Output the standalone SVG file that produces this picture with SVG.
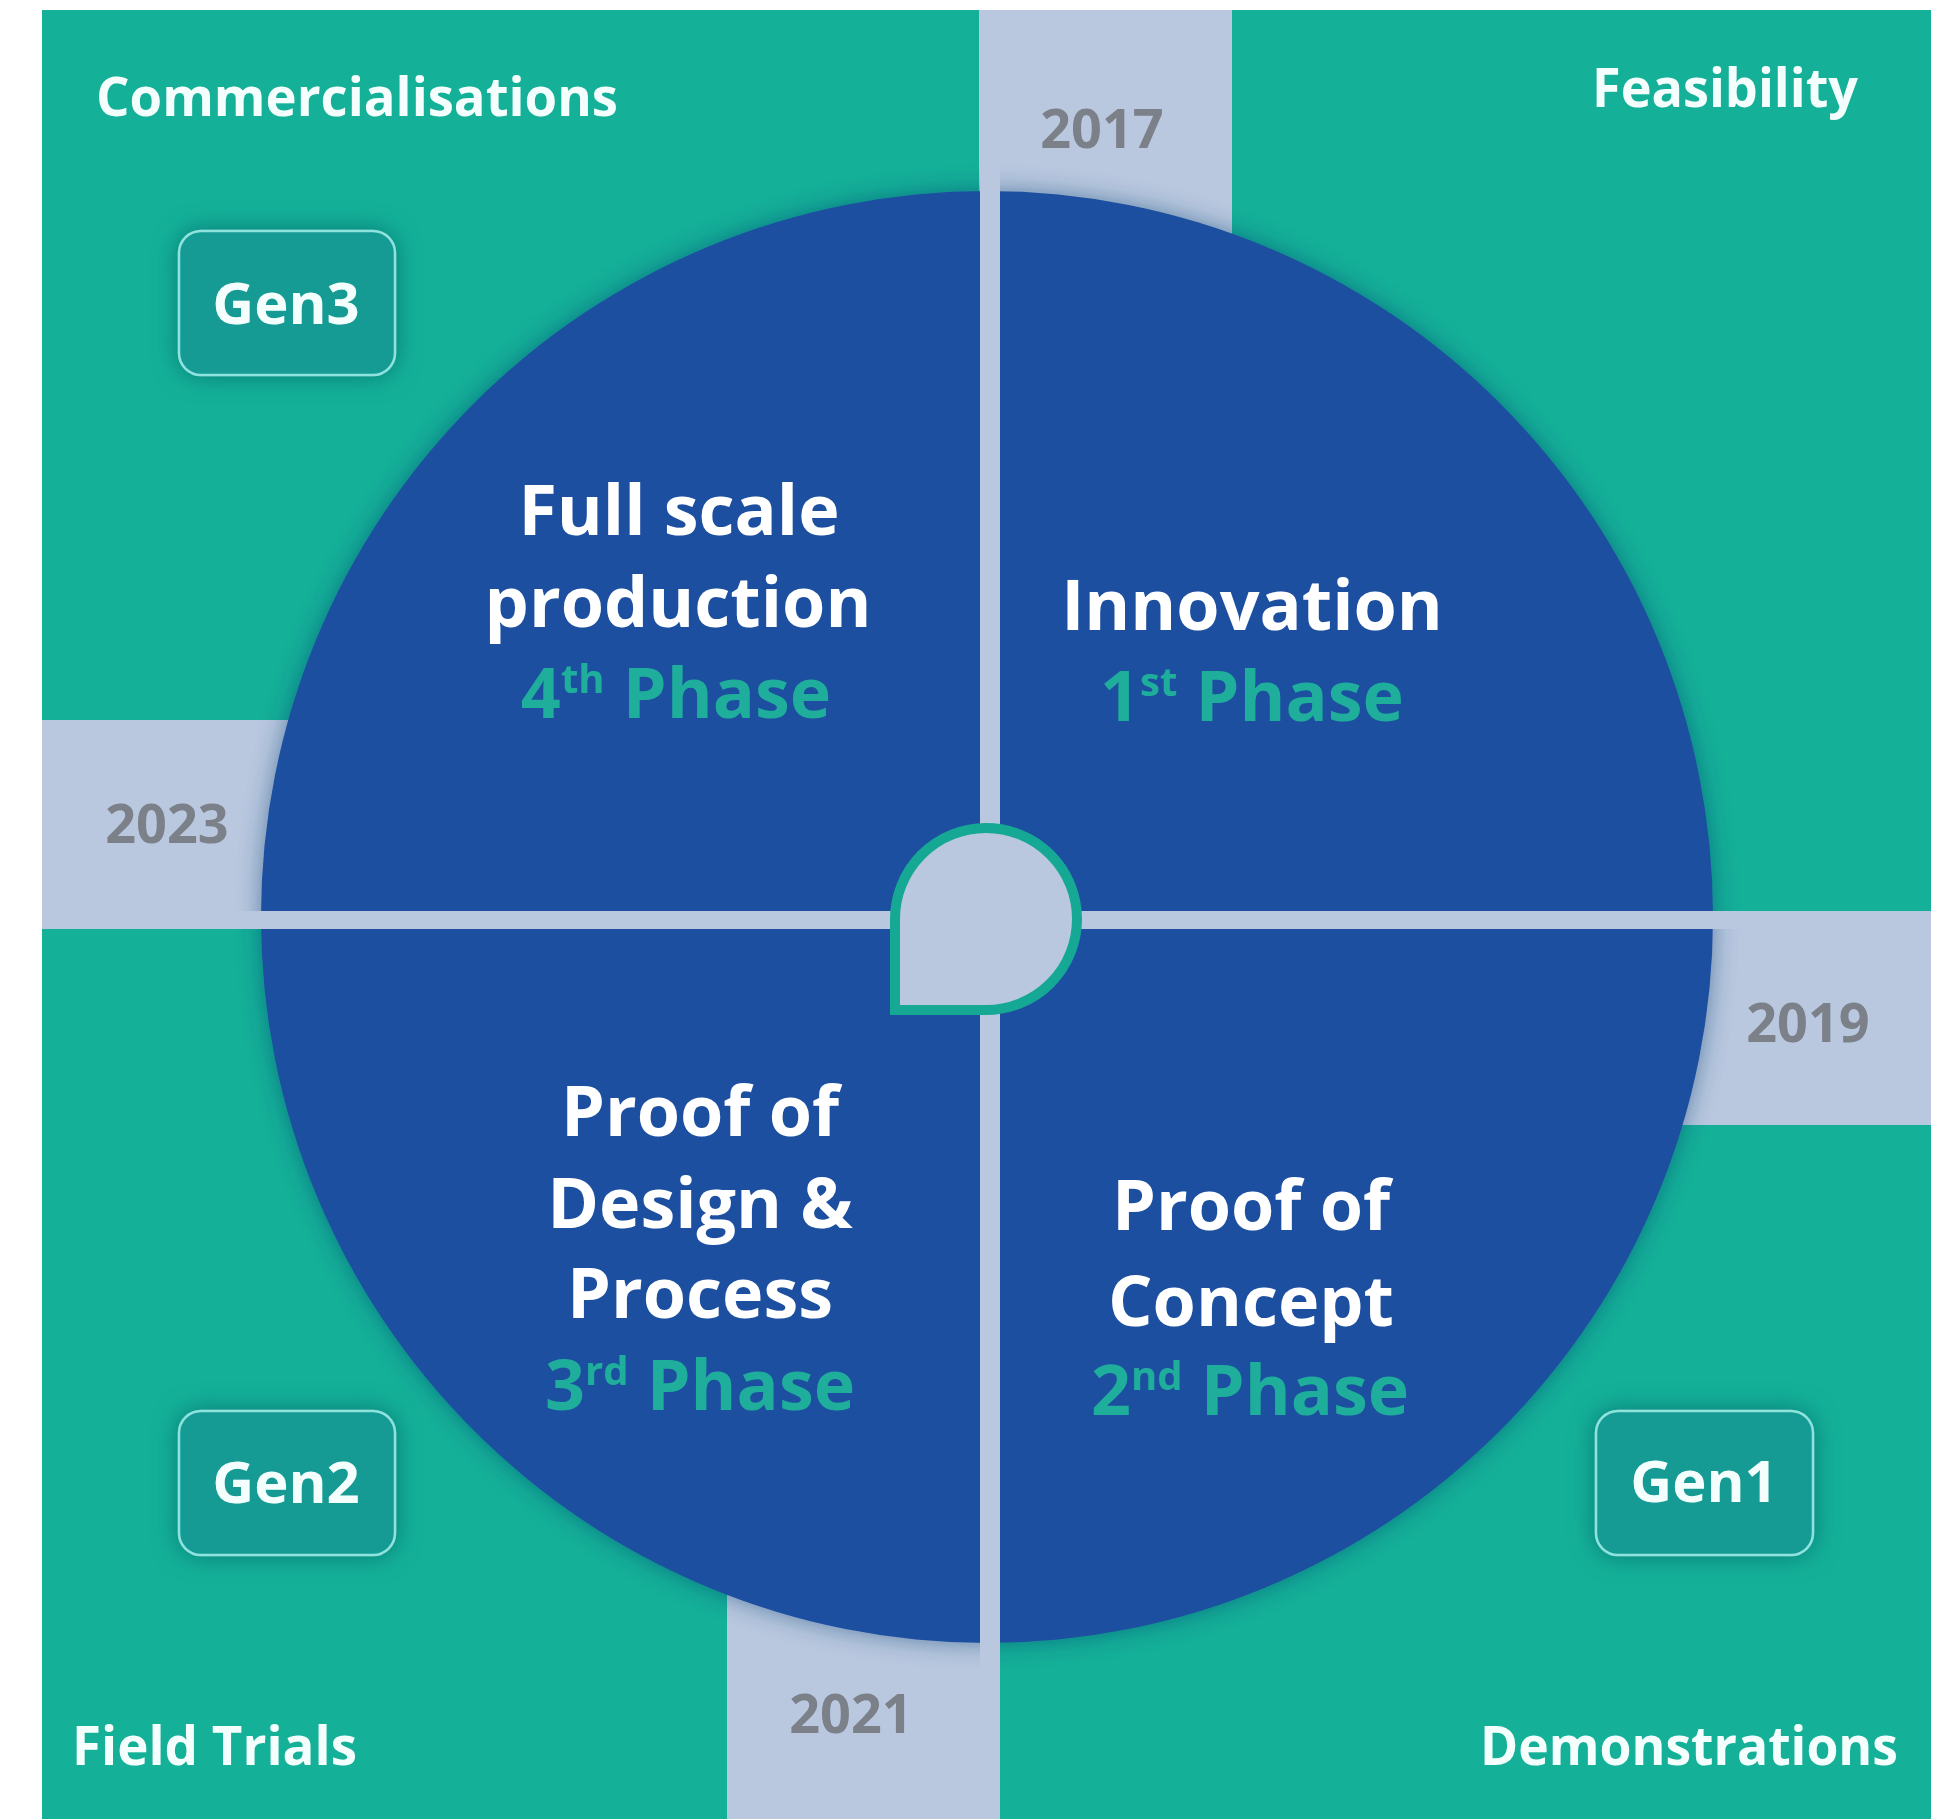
<svg xmlns="http://www.w3.org/2000/svg" width="1942" height="1819" viewBox="0 0 1942 1819">
<style>
text{font-family:"Open Sans","Noto Sans","Liberation Sans",sans-serif;font-weight:700}
.corner{fill:#f4fffd;font-size:54px}
.gen{fill:#f4fffd;font-size:58px;text-anchor:middle}
.year{fill:#7b8089;font-size:54px;text-anchor:middle}
.main{fill:#ffffff;font-size:70px;text-anchor:middle}
.phase{fill:#1fae9b;font-size:70px;text-anchor:middle}
.sup{font-size:40px}
.band{fill:#b9c8df}
.genbox{fill:#139b94;stroke:#8fe3df;stroke-width:2.5}
</style>
<defs>
<filter id="glow" x="-10%" y="-10%" width="120%" height="120%">
<feGaussianBlur in="SourceAlpha" stdDeviation="12" result="b"/>
<feFlood flood-color="#0d3a6e" flood-opacity="0.5"/>
<feComposite operator="in" in2="b" result="sh"/>
<feMerge><feMergeNode in="sh"/><feMergeNode in="SourceGraphic"/></feMerge>
</filter>
<filter id="boxglow" x="-30%" y="-30%" width="160%" height="160%">
<feGaussianBlur in="SourceAlpha" stdDeviation="12" result="b"/>
<feFlood flood-color="#08686b" flood-opacity="0.75"/>
<feComposite operator="in" in2="b" result="sh"/>
<feMerge><feMergeNode in="sh"/><feMergeNode in="SourceGraphic"/></feMerge>
</filter>
</defs>
<rect x="0" y="0" width="1942" height="1819" fill="#ffffff"/>
<rect x="42" y="10" width="1889" height="1809" fill="#14b098"/>
<g id="bands">
<rect class="band" x="979" y="10" width="253" height="400"/>
<rect class="band" x="42" y="720" width="450" height="208"/>
<rect class="band" x="1480" y="912" width="451" height="213"/>
<rect class="band" x="727" y="1400" width="273" height="419"/>
</g>
<g id="circle">
<circle cx="987" cy="917" r="726" fill="#1b4fa0" filter="url(#glow)"/>
</g>
<g id="connectors">
<rect class="band" x="980" y="10" width="20" height="1809"/>
<rect class="band" x="42" y="911" width="1889" height="18"/>
</g>
<g id="hub">
<path d="M895,919 A91,91 0 0 1 986,828 A91,91 0 0 1 1077,919 A91,91 0 0 1 986,1010 L895,1010 Z" fill="#b9c8df" stroke="#15a894" stroke-width="10"/>
</g>
<g id="years">
<text class="year" x="1102" y="148">2017</text>
<text class="year" x="1808" y="1042">2019</text>
<text class="year" x="851" y="1733">2021</text>
<text class="year" x="167" y="843">2023</text>
</g>
<g id="corner-labels">
<text class="corner" x="96" y="116" textLength="522" lengthAdjust="spacingAndGlyphs">Commercialisations</text>
<text class="corner" x="1592" y="107" textLength="266" lengthAdjust="spacingAndGlyphs">Feasibility</text>
<text class="corner" x="72" y="1765" textLength="285" lengthAdjust="spacingAndGlyphs">Field Trials</text>
<text class="corner" x="1480" y="1765" textLength="418" lengthAdjust="spacingAndGlyphs">Demonstrations</text>
</g>
<g id="gen3" filter="url(#boxglow)">
<rect class="genbox" x="179" y="231" width="216" height="144" rx="22"/>
<text class="gen" x="286" y="324">Gen3</text>
</g>
<g id="gen2" filter="url(#boxglow)">
<rect class="genbox" x="179" y="1411" width="216" height="144" rx="22"/>
<text class="gen" x="286" y="1503">Gen2</text>
</g>
<g id="gen1" filter="url(#boxglow)">
<rect class="genbox" x="1596" y="1411" width="217" height="144" rx="22"/>
<text class="gen" x="1704" y="1502">Gen1</text>
</g>
<g id="phase4">
<text class="main" x="679" y="535">Full scale</text>
<text class="main" x="678" y="627">production</text>
<text class="phase" x="676" y="718">4<tspan class="sup" dy="-25">th</tspan><tspan dy="25"> Phase</tspan></text>
</g>
<g id="phase1">
<text class="main" x="1252" y="630">Innovation</text>
<text class="phase" x="1252" y="721">1<tspan class="sup" dy="-25">st</tspan><tspan dy="25"> Phase</tspan></text>
</g>
<g id="phase3">
<text class="main" x="700" y="1136">Proof of</text>
<text class="main" x="700" y="1228">Design &amp;</text>
<text class="main" x="700" y="1318">Process</text>
<text class="phase" x="700" y="1410">3<tspan class="sup" dy="-25">rd</tspan><tspan dy="25"> Phase</tspan></text>
</g>
<g id="phase2">
<text class="main" x="1251" y="1230">Proof of</text>
<text class="main" x="1251" y="1326">Concept</text>
<text class="phase" x="1250" y="1415">2<tspan class="sup" dy="-25">nd</tspan><tspan dy="25"> Phase</tspan></text>
</g>
</svg>
